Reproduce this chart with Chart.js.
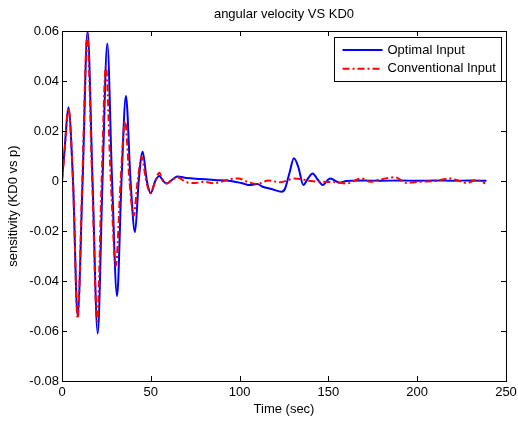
<!DOCTYPE html>
<html>
<head>
<meta charset="utf-8">
<script src="https://cdn.jsdelivr.net/npm/chart.js@4.4.0/dist/chart.umd.min.js"></script>
<style>
html, body { margin: 0; padding: 0; background: #fff; }
</style>
</head>
<body>
<canvas id="sensChart" width="518" height="421"></canvas>
<script>
/* global Chart */

// values
var optTime = [0, 1.5, 3.6, 6.2, 8.8, 11.6, 14.4, 17.2, 20.1, 22.8, 25.5, 28.2, 31, 33.5, 36, 38.6, 41.1, 43.2, 45.4, 47.8,
    49.9, 52.5, 54.8, 57, 59, 62, 65, 70, 78, 86, 95, 102, 105, 108, 110, 113, 118, 123.7, 125.6, 128, 130.6, 133,
    135.9, 138.5, 141.1, 144, 146.8, 150.9, 156.5, 160, 170, 180, 190, 200, 210, 220, 230, 239];
var optValue = [0, 0.013, 0.0295, 0, -0.054, 0, 0.060, 0, -0.061, 0, 0.055, 0, -0.046, 0, 0.034, 0, -0.0205, 0, 0.0117, 0,
    -0.0049, 0, 0.002, 0, -0.001, 0.0005, 0.0018, 0.0012, 0.0008, 0.0004, 0, -0.001, -0.0016, -0.0014, -0.0012, -0.0023, -0.0032, -0.0043, -0.003, 0.003, 0.0091, 0.0057,
    -0.0016, 0.001, 0.003, 0.0005, -0.0016, 0.001, -0.0007, 0, 0.0002, 0.0001, 0.0002, 0.0001, 0.0002, 0.0001, 0.0002, 0.0001];

var convTime = [0, 1.5, 3.6, 6.2, 8.8, 11.4, 14.2, 17, 19.8, 22.3, 24.7, 27.5, 30.3, 33, 35.5, 38, 40.3, 42.6, 44.8, 47.4,
    49.9, 52.5, 54.8, 57, 59, 62, 65, 70, 75, 80, 85, 90, 95, 99.3, 104, 109.6, 116.2, 122.8, 131, 134, 140, 147, 154,
    160.3, 168.7, 173.5, 179, 187.5, 194, 201.7, 210, 218.5, 223, 227.9, 233, 238.3];
var convValue = [0, 0.012, 0.029, 0, -0.055, 0, 0.058, 0, -0.056, 0, 0.046, 0, -0.034, 0, 0.024, 0, -0.014, 0, 0.0097, 0,
    -0.0049, 0, 0.0033, 0, -0.001, 0.0005, 0.0015, -0.0005, -0.0008, -0.0003, -0.0009, -0.0002, 0.0008, 0.001, -0.0002, -0.0012, 0.0002, -0.0005, 0.001, 0.0008, 0, -0.0003, -0.0005,
    -0.001, 0.001, -0.0003, 0.0006, 0.0015, -0.0008, -0.0003, 0, 0.001, 0.0002, -0.0008, 0.0004, -0.001];

var seriesNames = ["Optimal Input", "Conventional Input"];

function toPoints(xs, ys) {
    var pts = [];
    for (var i = 0; i < xs.length; i++) {
        pts.push({ x: xs[i], y: ys[i] });
    }
    return pts;
}

var fontFam = "'Liberation Sans', Arial, Helvetica, sans-serif";
var baseFont = { family: fontFam, size: 13, weight: 'normal' };

// MATLAB style box, inward ticks and the legend
var matlabFrame = {
    id: 'matlabFrame',
    afterDraw: function(chart) {
        var ctx = chart.ctx;
        var a = chart.chartArea;
        var xs = chart.scales.x;
        var ys = chart.scales.y;
        ctx.save();
        ctx.strokeStyle = '#000';
        ctx.lineWidth = 1;
        ctx.strokeRect(Math.round(a.left) + 0.5, Math.round(a.top) + 0.5,
            Math.round(a.right - a.left), Math.round(a.bottom - a.top));

        ctx.beginPath();
        xs.ticks.forEach(function(t) {
            var px = Math.round(xs.getPixelForValue(t.value)) + 0.5;
            ctx.moveTo(px, a.bottom); ctx.lineTo(px, a.bottom - 5);
            ctx.moveTo(px, a.top); ctx.lineTo(px, a.top + 5);
        });
        ys.ticks.forEach(function(t) {
            var py = Math.round(ys.getPixelForValue(t.value)) + 0.5;
            ctx.moveTo(a.left, py); ctx.lineTo(a.left + 5, py);
            ctx.moveTo(a.right, py); ctx.lineTo(a.right - 5, py);
        });
        ctx.stroke();

        // legend
        var bw = 167, bh = 44;
        var bx = Math.round(a.right - 5 - bw) + 0.5;
        var by = Math.round(a.top + 6) + 0.5;
        ctx.fillStyle = '#fff';
        ctx.fillRect(bx, by, bw, bh);
        ctx.strokeRect(bx, by, bw, bh);
        ctx.font = "13px " + fontFam;
        ctx.textBaseline = 'middle';
        ctx.textAlign = 'left';
        chart.data.datasets.forEach(function(ds, i) {
            var yy = by + 12.5 + i * 18.7;
            ctx.beginPath();
            ctx.strokeStyle = ds.borderColor;
            ctx.lineWidth = ds.borderWidth;
            ctx.setLineDash(ds.borderDash || []);
            ctx.moveTo(bx + 8, yy);
            ctx.lineTo(bx + 48, yy);
            ctx.stroke();
            ctx.setLineDash([]);
            ctx.fillStyle = '#000';
            ctx.fillText(ds.label, bx + 53, yy);
        });
        ctx.restore();
    }
};

var sensChart = new Chart(document.getElementById("sensChart"), {
    type: 'line',
    data: {
        datasets: [{
            label: seriesNames[0],
            data: toPoints(optTime, optValue),
            borderColor: '#0000ff',
            borderWidth: 2,
            pointRadius: 0,
            fill: false,
            cubicInterpolationMode: 'monotone',
            order: 2
        }, {
            label: seriesNames[1],
            data: toPoints(convTime, convValue),
            borderColor: '#ff0000',
            borderWidth: 2,
            borderDash: [7, 3, 2, 3],
            pointRadius: 0,
            fill: false,
            cubicInterpolationMode: 'monotone',
            order: 1
        }]
    },
    options: {
        responsive: false,
        animation: false,
        events: [],
        layout: { padding: { left: 0, right: 12, top: 0, bottom: 0 } },
        plugins: {
            legend: { display: false },
            tooltip: { enabled: false },
            title: {
                display: true,
                fullSize: false,
                text: 'angular velocity VS KD0',
                color: '#000',
                font: baseFont,
                padding: { top: 7, bottom: 8.4 }
            }
        },
        scales: {
            x: {
                type: 'linear',
                min: 0,
                max: 250,
                grid: { display: false, drawTicks: false },
                border: { display: false },
                ticks: { stepSize: 50, color: '#000', font: baseFont, padding: 4, maxRotation: 0 },
                title: { display: true, text: 'Time (sec)', color: '#000', font: baseFont, padding: { top: 0, bottom: 4 } },
                afterFit: function(s) { s.height = 40; s.paddingLeft = 0; s.paddingRight = 0; }
            },
            y: {
                min: -0.08,
                max: 0.06,
                grid: { display: false, drawTicks: false },
                border: { display: false },
                ticks: {
                    stepSize: 0.02,
                    color: '#000',
                    font: baseFont,
                    padding: 3,
                    callback: function(v) {
                        if (Math.abs(v) < 1e-9) return '0';
                        return v.toFixed(2);
                    }
                },
                title: { display: true, text: 'sensitivity (KD0 vs p)', color: '#000', font: baseFont, padding: { top: 6, bottom: 0 } },
                afterFit: function(s) { s.width = 62; s.paddingTop = 0; s.paddingBottom = 0; }
            }
        }
    },
    plugins: [matlabFrame]
});
</script>
</body>
</html>
